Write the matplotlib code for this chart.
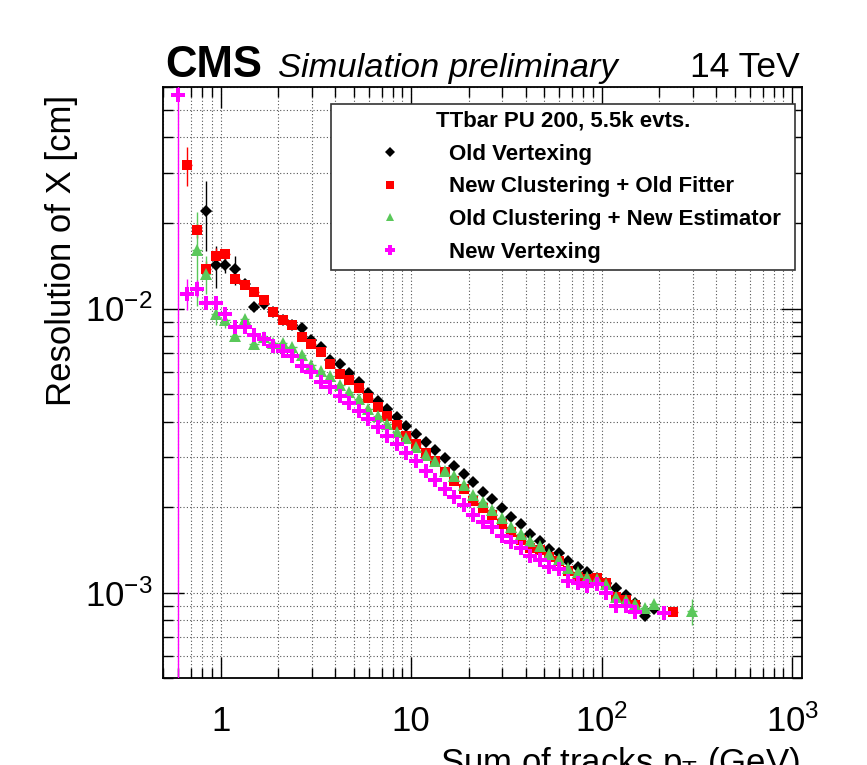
import matplotlib
matplotlib.use('Agg')
import matplotlib.pyplot as plt
import numpy as np
from matplotlib.ticker import FixedLocator, FixedFormatter, LogLocator, NullFormatter

plt.rcParams['font.family'] = ['Liberation Sans', 'DejaVu Sans']
plt.rcParams['mathtext.fontset'] = 'custom'
plt.rcParams['mathtext.rm'] = 'Liberation Sans'
plt.rcParams['mathtext.it'] = 'Liberation Sans:italic'
plt.rcParams['mathtext.bf'] = 'Liberation Sans:bold'

nan = np.nan

# bin centres, sum of track pT (GeV)
pt = [0.596, 0.668, 0.750, 0.841, 0.944, 1.059, 1.189, 1.334, 1.496, 1.679,
      1.884, 2.113, 2.371, 2.661, 2.985, 3.350, 3.758, 4.217, 4.732, 5.309,
      5.957, 6.683, 7.499, 8.414, 9.441, 10.59, 11.89, 13.34, 14.96, 16.79,
      18.84, 21.13, 23.71, 26.61, 29.85, 33.50, 37.58, 42.17, 47.32, 53.09,
      59.57, 66.83, 74.99, 84.14, 94.41, 105.9, 118.9, 133.4, 149.6, 167.9,
      188.4, 211.3, 237.1, 266.1, 298.5]

old_vtx = [nan, nan, nan, 0.0220, 0.0142, 0.0142, 0.01374, 0.01217, 0.01011, 0.0104,
           0.00976, 0.00910, 0.00874, 0.00851, 0.00776, 0.00730, 0.00659, 0.00638, 0.00593, 0.00553,
           0.00503, 0.00472, 0.00443, 0.00417, 0.00386, 0.00361, 0.00340, 0.00319, 0.00298, 0.00280,
           0.00262, 0.00245, 0.00227, 0.00213, 0.00199, 0.00185, 0.00174, 0.00161, 0.00152, 0.00143,
           0.00138, 0.00129, 0.00123, 0.00118, 0.00113, 0.00108, 0.00104, 0.000986, 0.000917, 0.000829,
           0.000874, nan, nan, nan, nan]
old_vtx_err = [0, 0, 0, 0.0060, 0.0024, 0.0009, 0.0016, 0.0005]

new_clus = [nan, 0.0319, 0.01887, 0.01374, 0.01530, 0.01551, 0.01274, 0.01210, 0.01144, 0.01072,
            0.00974, 0.00910, 0.00874, 0.00795, 0.00749, 0.00701, 0.00638, 0.00588, 0.00560, 0.00524,
            0.00485, 0.00449, 0.00420, 0.00390, 0.00356, 0.00333, 0.00311, 0.00290, 0.00267, 0.00248,
            0.00231, 0.00211, 0.00198, 0.00187, 0.00175, 0.00164, 0.00153, 0.00144, 0.00141, 0.00134,
            0.00129, 0.00119, 0.00114, 0.00112, 0.00113, 0.00108, 0.000970, 0.000942, 0.000902, nan,
            nan, nan, 0.000856, nan, nan]
new_clus_err = [0, 0.0050, 0.0012, 0.0010, 0.0010, 0.0007, 0.0004]

new_est = [nan, nan, 0.01602, 0.01327, 0.00953, 0.00915, 0.00801, 0.00922, 0.00749, 0.00793,
           0.00756, 0.00754, 0.00730, 0.00686, 0.00633, 0.00604, 0.00577, 0.00540, 0.00510, 0.00481,
           0.00443, 0.00420, 0.00391, 0.00367, 0.00349, 0.00327, 0.00306, 0.00290, 0.00269, 0.00257,
           0.00240, 0.00221, 0.00209, 0.00195, 0.00183, 0.00170, 0.00161, 0.00152, 0.00146, 0.00137,
           0.00131, 0.00122, 0.00118, 0.00114, 0.00112, 0.00107, 0.000968, 0.000940, 0.000910, 0.000886,
           0.000910, nan, nan, nan, 0.000862]
new_est_err = [0, 0, 0.0058, 0.0020, 0.0008, 0.0006, 0.0003] + [0] * 47 + [0.00009]

new_vtx = [0.0565, 0.01129, 0.01175, 0.01044, 0.01044, 0.00955, 0.00858, 0.00858, 0.00808, 0.00780,
           0.00736, 0.00707, 0.00682, 0.00626, 0.00599, 0.00553, 0.00531, 0.00491, 0.00465, 0.00437,
           0.00409, 0.00382, 0.00357, 0.00334, 0.00311, 0.00290, 0.00269, 0.00250, 0.00232, 0.00217,
           0.00203, 0.00187, 0.00177, 0.00170, 0.00159, 0.00151, 0.00144, 0.00135, 0.00130, 0.00123,
           0.00121, 0.00110, 0.00108, 0.00106, 0.00107, 0.00100, 0.000900, 0.000900, 0.000853, nan,
           nan, 0.000846, nan, nan, nan]
new_vtx_err = [0.060, 0.0014, 0.0008, 0.0004]

labels = ['Old Vertexing', 'New Clustering + Old Fitter',
          'Old Clustering + New Estimator', 'New Vertexing']
colors = ['black', '#ff0000', '#5ac85a', '#ff00ff']
markers = ['D', 's', '^', 'P']
msizes = [6.0, 6.5, 8.0, 9.5]

xticks = [1, 10, 100, 1000]
xticklabels = ['1', '10', r'$10^{2}$', r'$10^{3}$']
yticks = [1e-3, 1e-2]
yticklabels = [r'$10^{-3}$', r'$10^{-2}$']


def pad(err, n):
    return np.array(list(err) + [0] * (n - len(err)), dtype=float)


x = np.array(pt)
n = len(x)
# half bin width in log10 = 0.025
xlo = x * (1 - 10 ** -0.025)
xhi = x * (10 ** 0.025 - 1)

fig = plt.figure(figsize=(8.67, 7.65), dpi=100)
ax = fig.add_axes([0.1884, 0.1133, 0.737, 0.7725])

series = [old_vtx, new_clus, new_est, new_vtx]
errs = [old_vtx_err, new_clus_err, new_est_err, new_vtx_err]
handles = []
for ys, e, c, m, ms, lab in zip(series, errs, colors, markers, msizes, labels):
    y = np.array(ys, dtype=float)
    h = ax.errorbar(x, y, xerr=[xlo, xhi], yerr=pad(e, n), fmt=m, color=c,
                    ecolor=c, elinewidth=1.0, capsize=0, markersize=ms,
                    markeredgewidth=0, label=lab, zorder=3)
    handles.append(h.lines[0])

ax.set_xscale('log')
ax.set_yscale('log', nonpositive='clip')
ax.set_xlim(0.5, 1130)
ax.set_ylim(5e-4, 0.06)

ax.xaxis.set_major_locator(FixedLocator(xticks))
ax.xaxis.set_major_formatter(FixedFormatter(xticklabels))
ax.yaxis.set_major_locator(FixedLocator(yticks))
ax.yaxis.set_major_formatter(FixedFormatter(yticklabels))
ax.xaxis.set_minor_locator(LogLocator(base=10, subs=np.arange(2, 10), numticks=20))
ax.yaxis.set_minor_locator(LogLocator(base=10, subs=np.arange(2, 10), numticks=20))
ax.xaxis.set_minor_formatter(NullFormatter())
ax.yaxis.set_minor_formatter(NullFormatter())

ax.tick_params(which='both', direction='in', top=True, right=True, width=1.0, colors='black')
ax.tick_params(which='major', length=15, labelsize=25)
ax.tick_params(which='minor', length=7)
ax.tick_params(axis='x', which='major', pad=19)
ax.tick_params(axis='y', which='major', pad=8)

ax.grid(which='both', linestyle=(0, (1, 2)), color='#555555', linewidth=0.8, zorder=0)
ax.set_axisbelow(True)
for s in ax.spines.values():
    s.set_linewidth(1.3)

leg = ax.legend(handles=handles, labels=labels, title='TTbar PU 200, 5.5k evts.',
                loc='upper left', bbox_to_anchor=(0.2624, 0.694, 0.7262, 0.2776),
                mode='expand', fancybox=False, framealpha=1, edgecolor='#333333',
                prop={'weight': 'bold', 'size': 16}, title_fontproperties={'weight': 'bold', 'size': 16},
                borderpad=0.3, handlelength=4.7, handletextpad=0.3, labelspacing=0.53,
                markerscale=0.78, borderaxespad=0)
leg.get_frame().set_linewidth(1.2)
leg.set_zorder(5)

fig.text(165 / 867, 1 - 77 / 765, 'CMS', fontsize=31.5, fontweight='bold', ha='left', va='baseline')
fig.text(278 / 867, 1 - 77 / 765, 'Simulation preliminary', fontsize=24.8, style='italic',
         ha='left', va='baseline')
fig.text(800 / 867, 1 - 77 / 765, '14 TeV', fontsize=25.5, ha='right', va='baseline')
fig.text(78 / 867, 1 - 95 / 765, 'Resolution of X [cm]', fontsize=25, rotation=90,
         ha='right', va='top')
fig.text(800 / 867, -0.010, r'Sum of tracks $\mathregular{p_{T}}$ (GeV)', fontsize=25,
         ha='right', va='baseline')

fig.savefig('out.png', dpi=100)
